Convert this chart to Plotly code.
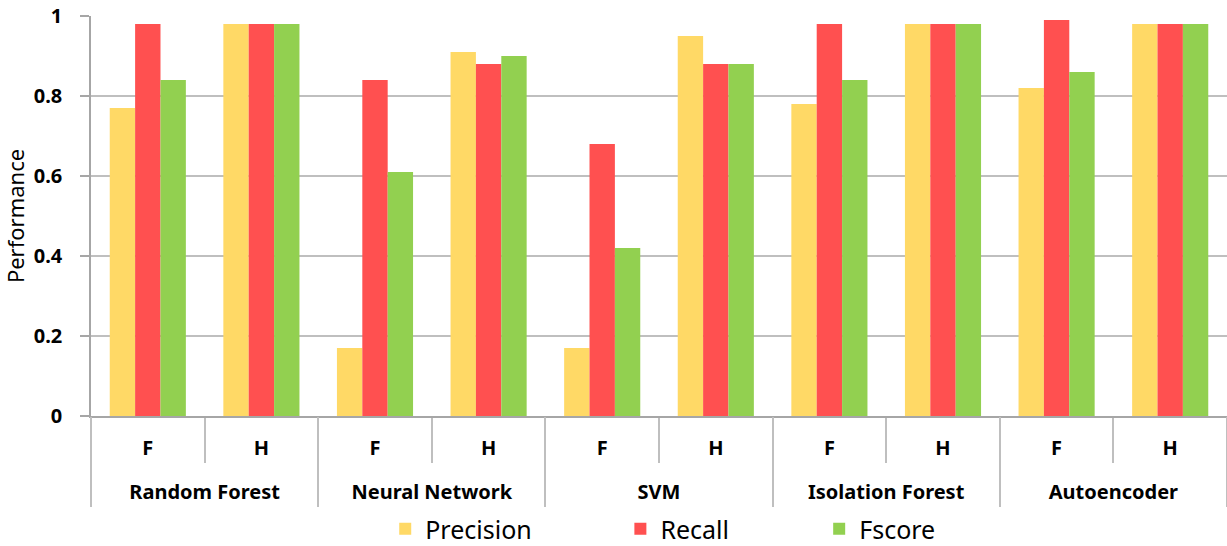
import plotly.graph_objects as go

# categorias
modelos = ["Random Forest", "Neural Network", "SVM", "Isolation Forest", "Autoencoder"]
subs = ["F", "H"]

# valores por serie (orden: RF F, RF H, NN F, NN H, SVM F, SVM H, IF F, IF H, AE F, AE H)
precision = [0.77, 0.98, 0.17, 0.91, 0.17, 0.95, 0.78, 0.98, 0.82, 0.98]
recall = [0.98, 0.98, 0.84, 0.88, 0.68, 0.88, 0.98, 0.98, 0.99, 0.98]
fscore = [0.84, 0.98, 0.61, 0.90, 0.42, 0.88, 0.84, 0.98, 0.86, 0.98]

# ids unicos para cada barra (modelo + subcategoria)
ids = [m + " " + s for m in modelos for s in subs]
etiquetas = [s for m in modelos for s in subs]

series = [
    ("Precision", precision, "#FFD966", "legend"),
    ("Recall", recall, "#FF5050", "legend2"),
    ("Fscore", fscore, "#92D050", "legend3"),
]

fuente = "Noto Sans"
gris = "#BFBFBF"

fig = go.Figure()
for nombre, vals, color, ley in series:
    fig.add_trace(go.Bar(
        x=ids,
        y=vals,
        name=nombre,
        legend=ley,
        marker=dict(color=color, line=dict(width=0)),
    ))

# traza invisible para el eje de grupos (modelos)
fig.add_trace(go.Scatter(
    x=modelos,
    y=[0] * len(modelos),
    xaxis="x2",
    mode="markers",
    marker=dict(opacity=0),
    showlegend=False,
    hoverinfo="skip",
))


def leyenda(xpos):
    return dict(
        xref="paper", x=xpos, xanchor="left",
        yref="container", y=0.031, yanchor="middle",
        font=dict(size=25, family=fuente, color="black"),
        itemwidth=30,
        bgcolor="rgba(0,0,0,0)",
    )


fig.update_layout(
    width=1227,
    height=546,
    margin=dict(l=91, r=0, t=16, b=130),
    barmode="group",
    bargap=0.33,
    bargroupgap=0,
    plot_bgcolor="white",
    paper_bgcolor="white",
    font=dict(family=fuente, color="black"),
    showlegend=True,
    legend=leyenda(0.259),
    legend2=leyenda(0.466),
    legend3=leyenda(0.641),
    xaxis=dict(
        type="category",
        categoryorder="array",
        categoryarray=ids,
        tickmode="array",
        tickvals=ids,
        ticktext=etiquetas,
        tickson="boundaries",
        ticks="outside",
        ticklen=45,
        tickwidth=1.5,
        tickcolor=gris,
        ticklabelstandoff=13,
        tickfont=dict(size=20, family=fuente, color="black", weight="bold"),
        showline=True,
        linecolor="#A6A6A6",
        linewidth=1.5,
        showgrid=False,
        automargin=False,
    ),
    xaxis2=dict(
        type="category",
        overlaying="x",
        anchor="y",
        side="bottom",
        categoryorder="array",
        categoryarray=modelos,
        range=[-0.5, len(modelos) - 0.5],
        tickson="boundaries",
        ticks="outside",
        ticklen=90,
        tickwidth=1.5,
        tickcolor=gris,
        ticklabelstandoff=62,
        tickfont=dict(size=20, family=fuente, color="black", weight="bold"),
        showline=False,
        showgrid=False,
        automargin=False,
    ),
    yaxis=dict(
        range=[0, 1],
        tickvals=[0, 0.2, 0.4, 0.6, 0.8, 1],
        ticktext=["0", "0.2", "0.4", "0.6", "0.8", "1"],
        tickfont=dict(size=20, family=fuente, color="black", weight="bold"),
        ticklabelstandoff=14,
        showgrid=True,
        gridcolor=gris,
        gridwidth=1.5,
        showline=True,
        linecolor="#A6A6A6",
        linewidth=1.5,
        ticks="outside",
        ticklen=9,
        tickwidth=1.5,
        tickcolor="#A6A6A6",
        title=dict(text="Performance", font=dict(size=22, family=fuente), standoff=5),
        zeroline=False,
        automargin=True,
    ),
)

fig.write_html(
    "out.html",
    config={"displayModeBar": False},
    post_script="document.body.style.margin='0px';",
)
